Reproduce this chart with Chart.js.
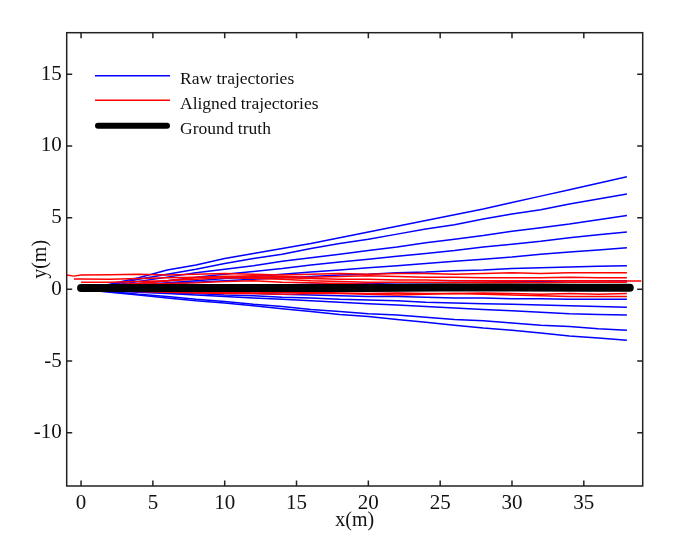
<!DOCTYPE html>
<html>
<head>
<meta charset="utf-8">
<script src="https://cdn.jsdelivr.net/npm/chart.js@4.4.1/dist/chart.umd.min.js"></script>
<style>
  html, body { margin: 0; padding: 0; background: #ffffff; }
  canvas { display: block; }
</style>
</head>
<body>
<canvas id="c" width="677" height="548"></canvas>
<script>
// ---- data ----
const xTicks = [0, 5, 10, 15, 20, 25, 30, 35];
const yTicks = [-10, -5, 0, 5, 10, 15];
const legendLabels = ['Raw trajectories', 'Aligned trajectories', 'Ground truth'];

// sample positions (m) for raw trajectories
const rawX = [0, 2, 4, 6, 8, 10, 12, 14, 16, 18, 20, 22, 24, 26, 28, 30, 32, 34, 36, 38];
const raw1  = [0, 0.35, 0.8, 1.35, 1.7, 2.15, 2.5, 2.85, 3.2, 3.6, 4.0, 4.4, 4.8, 5.2, 5.6, 6.05, 6.5, 6.95, 7.4, 7.85];
const raw2  = [0, 0.3, 0.7, 1.05, 1.4, 1.8, 2.15, 2.45, 2.85, 3.2, 3.5, 3.85, 4.2, 4.5, 4.9, 5.25, 5.55, 5.95, 6.3, 6.65];
const raw3  = [0, 0.25, 0.55, 0.85, 1.15, 1.4, 1.65, 1.95, 2.2, 2.45, 2.7, 2.95, 3.25, 3.5, 3.75, 4.05, 4.3, 4.55, 4.85, 5.15];
const raw4  = [0, 0.2, 0.4, 0.6, 0.85, 1.05, 1.25, 1.45, 1.7, 1.9, 2.1, 2.3, 2.5, 2.7, 2.95, 3.15, 3.35, 3.6, 3.8, 4.0];
const raw5  = [0, 0.15, 0.3, 0.45, 0.6, 0.75, 0.9, 1.05, 1.2, 1.35, 1.5, 1.65, 1.8, 1.95, 2.1, 2.25, 2.45, 2.6, 2.75, 2.9];
const raw6  = [0, 0.1, 0.25, 0.4, 0.5, 0.6, 0.7, 0.8, 0.9, 1.0, 1.05, 1.15, 1.2, 1.3, 1.35, 1.45, 1.5, 1.55, 1.6, 1.65];
const raw7  = [0, 0.05, 0.1, 0.15, 0.2, 0.25, 0.3, 0.3, 0.35, 0.4, 0.4, 0.45, 0.45, 0.5, 0.5, 0.55, 0.55, 0.6, 0.6, 0.6];
const raw8  = [0, -0.05, -0.1, -0.15, -0.2, -0.25, -0.3, -0.35, -0.4, -0.45, -0.5, -0.5, -0.55, -0.6, -0.6, -0.65, -0.65, -0.7, -0.7, -0.7];
const raw9  = [0, -0.1, -0.15, -0.25, -0.3, -0.4, -0.45, -0.55, -0.6, -0.7, -0.75, -0.8, -0.9, -0.95, -1.0, -1.05, -1.1, -1.15, -1.2, -1.25];
const raw10 = [0, -0.1, -0.2, -0.3, -0.4, -0.5, -0.6, -0.7, -0.8, -0.9, -1.0, -1.1, -1.2, -1.3, -1.4, -1.5, -1.6, -1.7, -1.75, -1.8];
const raw11 = [0, -0.15, -0.35, -0.5, -0.7, -0.85, -1.05, -1.2, -1.4, -1.55, -1.7, -1.8, -1.95, -2.1, -2.2, -2.35, -2.5, -2.6, -2.75, -2.85];
const raw12 = [0, -0.2, -0.4, -0.6, -0.8, -0.95, -1.15, -1.35, -1.55, -1.75, -1.9, -2.1, -2.3, -2.5, -2.7, -2.85, -3.05, -3.25, -3.4, -3.55];

// sample positions (m) for aligned trajectories (null = not present)
const alignX = [-1, -0.5, 0, 2, 4, 6, 8, 10, 12, 14, 16, 18, 20, 22, 24, 26, 28, 30, 32, 34, 36, 38, 39];
const al1 = [1.0, 0.92, 1.0, 1.02, 1.05, 1.0, 1.05, 1.1, 1.05, 1.0, 1.05, 1.1, 1.05, 1.1, 1.1, 1.05, 1.1, 1.15, 1.1, 1.15, 1.15, 1.15, null];
const al2 = [null, 0.72, 0.72, 0.7, 0.75, 0.8, 0.85, 0.9, 0.85, 0.8, 0.75, 0.7, 0.7, 0.65, 0.65, 0.6, 0.6, 0.6, 0.6, 0.6, 0.6, 0.58, 0.58];
const al3 = [null, null, 0.5, 0.5, 0.55, 0.6, 0.7, 0.8, 0.75, 0.7, 0.6, 0.55, 0.5, 0.5, 0.5, 0.45, 0.5, 0.5, 0.45, 0.5, 0.5, 0.5, null];
const al4 = [null, null, 0.3, 0.3, 0.35, 0.4, 0.45, 0.55, 0.6, 0.5, 0.45, 0.4, 0.35, 0.3, 0.3, 0.3, 0.35, 0.35, 0.3, 0.3, 0.3, 0.3, null];
const al5 = [null, null, 0.0, -0.1, -0.15, -0.2, -0.25, -0.3, -0.3, -0.35, -0.3, -0.3, -0.35, -0.4, -0.35, -0.3, -0.35, -0.4, -0.45, -0.5, -0.5, -0.5, null];
const al6 = [null, null, 0.0, -0.05, -0.1, -0.15, -0.2, -0.2, -0.25, -0.2, -0.2, -0.25, -0.3, -0.25, -0.3, -0.3, -0.25, -0.3, -0.35, -0.3, -0.35, -0.3, null];
const al7 = [null, null, 0.2, 0.3, 0.4, 0.6, 0.8, 0.9, 0.95, 0.9, 0.85, 0.9, 0.95, 0.9, 0.85, 0.85, 0.8, 0.8, 0.8, 0.85, 0.8, 0.8, null];

// ground truth
const truthX = [0, 5, 10, 15, 20, 25, 30, 35, 38.2];
const truthY = [0.1, 0.1, 0.1, 0.1, 0.1, 0.12, 0.12, 0.11, 0.11];

// ---- build datasets ----
const BLUE = '#0000ff', RED = '#ff0000', BLACK = '#000000';
function pts(xs, ys) {
  const out = [];
  xs.forEach((x, i) => { if (ys[i] !== null) out.push({ x: x, y: ys[i] }); });
  return out;
}
const datasets = [];
datasets.push({ label: legendLabels[2], data: pts(truthX, truthY), borderColor: BLACK, borderWidth: 8, borderCapStyle: 'round', order: 0 });
[al1, al2, al3, al4, al5, al6, al7].forEach(a => datasets.push({ label: legendLabels[1], data: pts(alignX, a), borderColor: RED, borderWidth: 1.5, order: 1 }));
[raw1, raw2, raw3, raw4, raw5, raw6, raw7, raw8, raw9, raw10, raw11, raw12].forEach(r => datasets.push({ label: legendLabels[0], data: pts(rawX, r), borderColor: BLUE, borderWidth: 1.5, order: 2 }));
datasets.forEach(d => { d.pointRadius = 0; d.fill = false; d.tension = 0; d.borderJoinStyle = 'round'; });

const SERIF = "'Liberation Serif', 'Times New Roman', serif";

const framePlugin = {
  id: 'frame',
  afterDatasetsDraw(chart) {
    const { ctx, chartArea: a, scales: { x, y } } = chart;
    ctx.save();
    ctx.strokeStyle = '#222';
    ctx.lineWidth = 1.5;
    ctx.strokeRect(a.left, a.top, a.right - a.left, a.bottom - a.top);
    ctx.beginPath();
    const L = 5.5;
    x.ticks.forEach(t => {
      const p = x.getPixelForValue(t.value);
      ctx.moveTo(p, a.bottom); ctx.lineTo(p, a.bottom - L);
      ctx.moveTo(p, a.top); ctx.lineTo(p, a.top + L);
    });
    y.ticks.forEach(t => {
      const p = y.getPixelForValue(t.value);
      ctx.moveTo(a.left, p); ctx.lineTo(a.left + L, p);
      ctx.moveTo(a.right, p); ctx.lineTo(a.right - L, p);
    });
    ctx.stroke();
    ctx.restore();
  }
};

const legendPlugin = {
  id: 'customLegend',
  afterDraw(chart) {
    const { ctx } = chart;
    const items = [
      { text: legendLabels[0], color: BLUE, width: 1.5, y: 75.7 },
      { text: legendLabels[1], color: RED, width: 1.5, y: 100.3 },
      { text: legendLabels[2], color: BLACK, width: 6, y: 125.7 }
    ];
    ctx.save();
    items.forEach(it => {
      ctx.beginPath();
      ctx.strokeStyle = it.color;
      ctx.lineWidth = it.width;
      ctx.lineCap = it.width > 3 ? 'round' : 'butt';
      const x0 = it.width > 3 ? 98 : 95, x1 = it.width > 3 ? 167 : 170;
      ctx.moveTo(x0, it.y); ctx.lineTo(x1, it.y);
      ctx.stroke();
      ctx.fillStyle = '#111';
      ctx.font = "17.5px " + SERIF;
      ctx.textBaseline = 'alphabetic';
      ctx.textAlign = 'left';
      ctx.fillText(it.text, 180, it.y + 8.5);
    });
    ctx.restore();
  }
};

new Chart(document.getElementById('c'), {
  type: 'line',
  data: { datasets },
  options: {
    responsive: false,
    animation: false,
    devicePixelRatio: 1,
    layout: { padding: { top: 32.7, right: 34.3, left: 0, bottom: 0 } },
    plugins: { legend: { display: false }, tooltip: { enabled: false } },
    elements: { line: { borderJoinStyle: 'round' } },
    scales: {
      x: {
        type: 'linear', min: -1, max: 39.1,
        afterBuildTicks: s => { s.ticks = xTicks.map(v => ({ value: v })); },
        afterFit: s => { s.height = 62; },
        grid: { display: false, drawTicks: false }, border: { display: false },
        ticks: { color: '#111', font: { family: SERIF, size: 21 }, padding: 5, maxRotation: 0, autoSkip: false },
        title: { display: true, text: 'x(m)', color: '#111', font: { family: SERIF, size: 20 }, padding: { top: 0, bottom: 14.8 } }
      },
      y: {
        type: 'linear', min: -13.72, max: 17.9,
        afterBuildTicks: s => { s.ticks = yTicks.map(v => ({ value: v })); },
        afterFit: s => { s.width = 66.7; },
        grid: { display: false, drawTicks: false }, border: { display: false },
        ticks: { color: '#111', font: { family: SERIF, size: 21 }, padding: 5, autoSkip: false },
        title: { display: true, text: 'y(m)', color: '#111', font: { family: SERIF, size: 20 }, padding: { top: 28.6, bottom: 0 } }
      }
    }
  },
  plugins: [framePlugin, legendPlugin]
});
</script>
</body>
</html>
